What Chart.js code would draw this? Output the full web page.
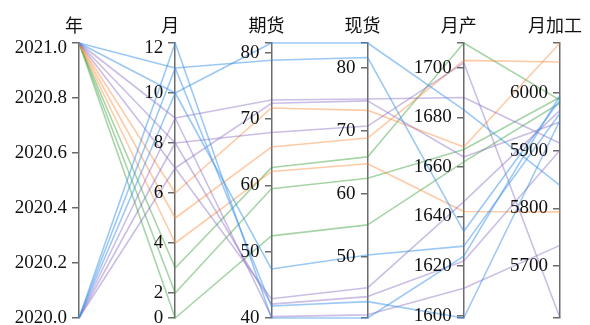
<!DOCTYPE html>
<html>
<head>
<meta charset="utf-8">
<script src="https://cdn.jsdelivr.net/npm/chart.js@4"></script>
<style>
  html, body { margin: 0; padding: 0; background: #fff; }
</style>
</head>
<body>
<canvas id="chart" width="590" height="325"></canvas>
<script>
// one entry per month (2021 Jan-Nov, then 2020 Jul-Dec)
const years = [2021, 2021, 2021, 2021, 2021, 2021, 2021, 2021, 2021, 2021, 2021,
  2020, 2020, 2020, 2020, 2020, 2020]
const months = [1, 2, 3, 4, 5, 6, 7, 8, 9, 10, 11, 7, 8, 9, 10, 11, 12]
const futures = [52.4, 59.5, 62.7, 62.1, 65.8, 71.7, 72.4, 68.0, 72.9, 81.5, 78.9,
  42.9, 42.1, 40.2, 47.4, 41.8, 40.0]
const spot = [55.1, 62.5, 65.9, 64.8, 68.9, 73.3, 74.8, 70.8, 75.1, 84.0, 81.7,
  45.1, 43.7, 40.8, 50.3, 42.9, 40.3]
const output = [1662, 1667, 1710, 1642, 1703, 1668, 1664, 1702, 1688, 1683, 1634,
  1646, 1622, 1611, 1628, 1599, 1624]
const processing = [5983, 5993, 5988, 5794, 6054, 6087, 5950, 5610, 5913, 5840, 5988,
  5970, 5901, 5736, 5965, 5953, 5996]

const axisNames = ['年', '月', '期货', '现货', '月产', '月加工']

const yearTicks = [2020, 2020.2, 2020.4, 2020.6, 2020.8, 2021]
const yearTickLabels = ['2020.0', '2020.2', '2020.4', '2020.6', '2020.8', '2021.0']
const monthTicks = [1, 2, 4, 6, 8, 10, 12]
const monthTickLabels = ['0', '2', '4', '6', '8', '10', '12']
const futuresTicks = [40, 50, 60, 70, 80]
const spotTicks = [50, 60, 70, 80]
const outputTicks = [1600, 1620, 1640, 1660, 1680, 1700]
const processingTicks = [5700, 5800, 5900, 6000]

// colour by quarter of the month
const quarterColors = [
  'rgba(60, 160, 60, 0.45)',
  'rgba(250, 140, 60, 0.45)',
  'rgba(130, 100, 190, 0.42)',
  'rgba(57, 145, 235, 0.5)'
]

const dims = [
  { id: 'y0', values: years, ticks: yearTicks, labels: yearTickLabels },
  { id: 'y1', values: months, ticks: monthTicks, labels: monthTickLabels },
  { id: 'y2', values: futures, ticks: futuresTicks },
  { id: 'y3', values: spot, ticks: spotTicks },
  { id: 'y4', values: output, ticks: outputTicks },
  { id: 'y5', values: processing, ticks: processingTicks }
]

const tickLength = 6
const tickFont = "19px 'Liberation Serif', 'Times New Roman', serif"

function makeAxis(dim, k) {
  const min = Math.min(...dim.values)
  const max = Math.max(...dim.values)
  const labels = dim.labels || dim.ticks.map(String)

  return {
    type: 'linear',
    axis: 'y',
    position: { x: k },
    min: min,
    max: max,
    z: 1,
    grid: { drawOnChartArea: false, drawTicks: true, tickLength: tickLength, color: '#6b6b6b', lineWidth: 1.5 },
    border: { display: true, color: '#6b6b6b', width: 1.5 },
    // labels are generated here, painted by the tickLabels plugin (left of the tick marks)
    ticks: {
      display: false,
      autoSkip: false,
      callback: (value) => {
        const i = dim.ticks.findIndex(t => Math.abs(t - value) < 1e-6)
        return i < 0 ? '' : labels[i]
      }
    },
    afterBuildTicks: (scale) => {
      // d3-style outer ticks at both ends of the domain
      const values = dim.ticks.filter(t => t >= min - 1e-9 && t <= max + 1e-9)
      if (!values.some(t => Math.abs(t - min) < 1e-6)) values.unshift(min)
      if (!values.some(t => Math.abs(t - max) < 1e-6)) values.push(max)
      scale.ticks = values.map(v => ({ value: v }))
    },
    afterFit: (scale) => {
      scale.paddingTop = 0
      scale.paddingBottom = 0
    }
  }
}

const parallelLines = {
  id: 'parallelLines',
  beforeDatasetsDraw(chart) {
    const ctx = chart.ctx
    const xs = chart.scales.x
    ctx.save()
    ctx.lineWidth = 1.6
    ctx.lineJoin = 'round'
    months.forEach((m, i) => {
      ctx.beginPath()
      dims.forEach((d, k) => {
        const px = xs.getPixelForValue(k)
        const py = chart.scales[d.id].getPixelForValue(d.values[i])
        if (k === 0) ctx.moveTo(px, py)
        else ctx.lineTo(px, py)
      })
      ctx.strokeStyle = quarterColors[Math.ceil(m / 3) - 1]
      ctx.stroke()
    })
    ctx.restore()
  }
}

const tickLabels = {
  id: 'tickLabels',
  afterDraw(chart) {
    const ctx = chart.ctx
    const xs = chart.scales.x
    ctx.save()
    ctx.fillStyle = '#111'
    ctx.font = tickFont
    ctx.textAlign = 'right'
    ctx.textBaseline = 'middle'
    dims.forEach((d, k) => {
      const scale = chart.scales[d.id]
      const x = xs.getPixelForValue(k) - tickLength - 6
      scale.ticks.forEach(t => {
        if (!t.label) return
        let y = scale.getPixelForValue(t.value)
        if (y < chart.chartArea.top + 3) y += 5
        ctx.fillText(t.label, x, y)
      })
    })
    ctx.restore()
  }
}

const axisTitles = {
  id: 'axisTitles',
  afterDraw(chart) {
    const ctx = chart.ctx
    const xs = chart.scales.x
    ctx.save()
    ctx.fillStyle = '#111'
    ctx.font = "18px 'Liberation Serif', 'Noto Sans CJK SC', serif"
    ctx.textAlign = 'center'
    ctx.textBaseline = 'middle'
    axisNames.forEach((name, k) => {
      ctx.fillText(name, xs.getPixelForValue(k) - 5, chart.chartArea.top - 16)
    })
    ctx.restore()
  }
}

const scales = {
  x: { type: 'linear', min: 0, max: axisNames.length - 1, display: false }
}
dims.forEach((d, k) => { scales[d.id] = makeAxis(d, k) })

const chart = new Chart(document.getElementById('chart').getContext('2d'), {
  type: 'line',
  data: { datasets: [] },
  options: {
    responsive: false,
    devicePixelRatio: 1,
    animation: false,
    layout: { padding: { left: 79, right: 30, top: 43, bottom: 7 } },
    plugins: { legend: { display: false }, tooltip: { enabled: false } },
    scales: scales
  },
  plugins: [parallelLines, tickLabels, axisTitles]
})
</script>
</body>
</html>
